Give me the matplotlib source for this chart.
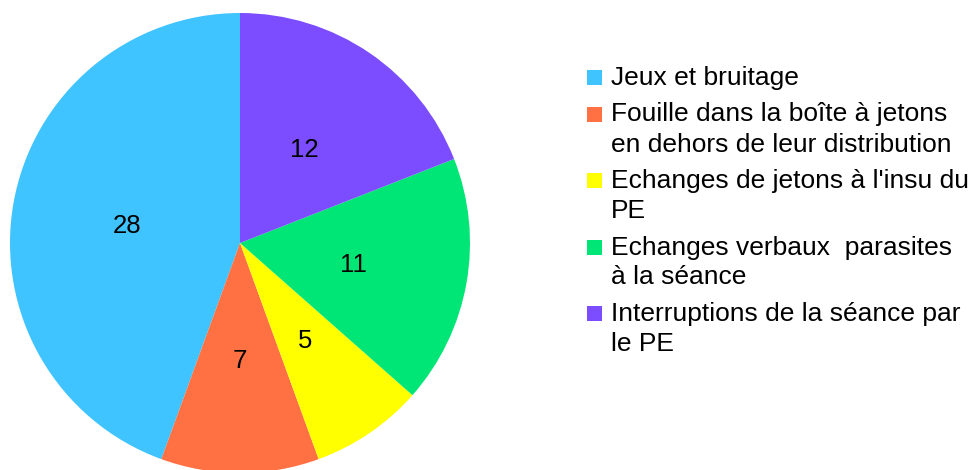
import matplotlib
matplotlib.use("Agg")
import matplotlib.pyplot as plt
from matplotlib.patches import Rectangle

plt.rcParams['font.family'] = ['Liberation Sans', 'DejaVu Sans']

categories = [
    "Jeux et bruitage",
    "Fouille dans la boîte à jetons\nen dehors de leur distribution",
    "Echanges de jetons à l'insu du\nPE",
    "Echanges verbaux  parasites\nà la séance",
    "Interruptions de la séance par\nle PE",
]
values = [28, 7, 5, 11, 12]
colors = ["#40c4ff", "#ff7043", "#ffff00", "#00e676", "#7c4dff"]

W, H = 974, 470
fig = plt.figure(figsize=(W / 100, H / 100), dpi=100)

# pie axes: center (240, 243) px from top, radius 230 px
cx, cy, r = 240, 243, 230
ax = fig.add_axes([(cx - r) / W, (H - cy - r) / H, 2 * r / W, 2 * r / H])
wedges, texts = ax.pie(values, colors=colors, startangle=90, counterclock=True,
                       labels=[str(v) for v in values], labeldistance=0.5,
                       textprops=dict(fontsize=18.5, color="black", ha="center",
                                      va="center_baseline"),
                       wedgeprops=dict(linewidth=0))
ax.set_xlim(-1, 1)
ax.set_ylim(-1, 1)
ax.set_aspect("equal")
ax.axis("off")

# legend drawn manually (first-line aligned markers)
fs = 19
x_marker, msize = 587, 15
x_text = 611
baseline = 85
line_step = 30
item_step = 36.5
for lab, col in zip(categories, colors):
    lines = lab.split("\n")
    fig.patches.append(Rectangle((x_marker / W, (H - baseline) / H), msize / W, msize / H,
                                 transform=fig.transFigure, facecolor=col, edgecolor="none"))
    for i, ln in enumerate(lines):
        fig.text(x_text / W, (H - baseline) / H, ln, fontsize=fs, ha="left", va="baseline")
        if i < len(lines) - 1:
            baseline += line_step
    baseline += item_step

fig.savefig("out.png", dpi=100)
